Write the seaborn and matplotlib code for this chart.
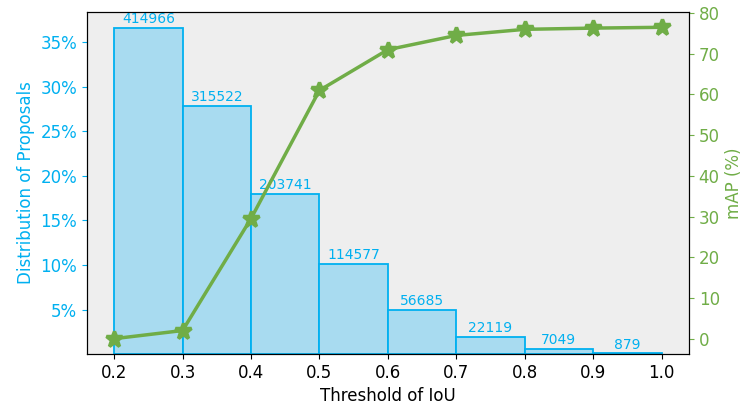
import numpy as np
import matplotlib
matplotlib.use("Agg")
import matplotlib.pyplot as plt
import seaborn as sns
from matplotlib.ticker import PercentFormatter

thresholds = [0.2, 0.3, 0.4, 0.5, 0.6, 0.7, 0.8, 0.9, 1.0]
counts = [414966, 315522, 203741, 114577, 56685, 22119, 7049, 879]
map_values = [0.0, 2.0, 29.5, 61.0, 71.0, 74.5, 76.0, 76.3, 76.5]

blue = "#00b0f0"
green = "#70ad47"

sns.set_style("ticks", {"axes.facecolor": "#eeeeee", "axes.edgecolor": "black",
                        "text.color": "black", "axes.labelcolor": "black",
                        "xtick.color": "black", "ytick.color": "black"})
plt.rcParams["font.family"] = ["DejaVu Sans"]

total = sum(counts)
frac = [c / total for c in counts]
lefts = thresholds[:-1]

fig = plt.figure(figsize=(7.48, 4.08), dpi=100)
ax = fig.add_axes([0.116, 0.132, 0.805, 0.839])

sns.histplot(x=lefts, weights=frac, bins=thresholds, ax=ax,
             color="#a8dbf0", edgecolor=blue, linewidth=1.3, alpha=1.0)
for x0, f, c in zip(lefts, frac, counts):
    ax.text(x0 + 0.05, f + 0.002, str(c), ha="center", va="bottom",
            color=blue, fontsize=10)

ax.set_yticks([0.05, 0.10, 0.15, 0.20, 0.25, 0.30, 0.35])
ax.yaxis.set_major_formatter(PercentFormatter(1.0, decimals=0))
ax.set_ylabel("Distribution of Proposals", color=blue, fontsize=12)
ax.set_xlabel("Threshold of IoU", fontsize=12)
ax.tick_params(axis="y", colors=blue, labelsize=12)
ax.tick_params(axis="x", labelsize=12)
ax.set_xticks(thresholds)

ax2 = ax.twinx()
sns.lineplot(x=thresholds, y=map_values, ax=ax2, color=green, linewidth=2.5,
             marker="*", markersize=12, markeredgecolor=green, markeredgewidth=2.5)
ax2.set_ylabel("mAP (%)", color=green, fontsize=12)
ax2.tick_params(axis="y", colors=green, labelsize=12)
ax2.set_yticks(range(0, 81, 10))
ax2.set_ylim(-3.8, 80.3)
for s in ax2.spines.values():
    s.set_color("black")

fig.savefig("out.png", dpi=100)
